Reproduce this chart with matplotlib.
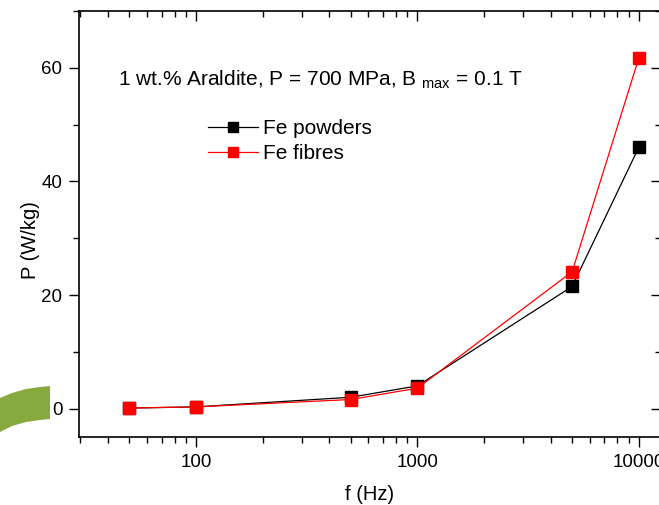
import matplotlib.pyplot as plt
from matplotlib.patches import Polygon
from matplotlib.ticker import LogLocator, MultipleLocator, FixedLocator

plt.rcParams['font.family'] = ['Liberation Sans', 'DejaVu Sans']

freq = [50, 100, 500, 1000, 5000, 10000]
p_powders = [0.1, 0.3, 2.0, 4.0, 21.5, 46.0]
p_fibres = [0.1, 0.3, 1.6, 3.6, 24.1, 61.7]

W, H = 659, 505
fig = plt.figure(figsize=(W / 100, H / 100), dpi=100)

# green slide decoration at lower left
shape = [(0, 398), (12, 393), (26, 389), (40, 387), (50, 386),
         (50, 419), (40, 420), (26, 422), (12, 426), (0, 432)]
fig.patches.append(Polygon([(x / W, 1 - y / H) for x, y in shape], closed=True,
                           transform=fig.transFigure, facecolor='#88a93d', edgecolor='none'))

ax = fig.add_axes([79 / W, 1 - 437 / H, (661 - 79) / W, (437 - 11) / H])

ax.plot(freq, p_powders, color='black', lw=0.9, marker='s', ms=8, mfc='black', mec='black',
        label='Fe powders')
ax.plot(freq, p_fibres, color='red', lw=0.9, marker='s', ms=8, mfc='red', mec='red',
        label='Fe fibres')

ax.set_xscale('log')
ax.set_xlim(29.6, 12600)
ax.set_ylim(-5, 70)
ax.xaxis.set_major_locator(FixedLocator([100, 1000, 10000]))
ax.xaxis.set_minor_locator(LogLocator(base=10, subs=range(2, 10), numticks=20))
ax.set_xticklabels(['100', '1000', '10000'])
ax.yaxis.set_major_locator(MultipleLocator(20))
ax.yaxis.set_minor_locator(MultipleLocator(10))

ax.tick_params(axis='both', which='major', labelsize=13.5, length=7, width=1, pad=5)
ax.tick_params(axis='both', which='minor', length=4, width=1)
ax.tick_params(axis='x', which='both', direction='out', top=True)
ax.tick_params(axis='y', which='both', direction='out', right=True)
# top and right ticks point inward
for t in ax.xaxis.get_ticklines(minor=False)[1::2] + ax.xaxis.get_ticklines(minor=True)[1::2]:
    t.set_marker(3)
for t in ax.yaxis.get_ticklines(minor=False)[1::2] + ax.yaxis.get_ticklines(minor=True)[1::2]:
    t.set_marker(0)

for s in ax.spines.values():
    s.set_linewidth(1.2)

ax.set_xlabel('f (Hz)', fontsize=14.5, labelpad=10)
ax.set_ylabel('P (W/kg)', fontsize=14.5)
ax.yaxis.set_label_coords((40 - 79) / (661 - 79), (437 - 240) / (437 - 11))

ax.text(118 / W, 1 - 80 / H, r'1 wt.% Araldite, P = 700 MPa, B $_{\mathregular{max}}$ = 0.1 T',
        transform=fig.transFigure, fontsize=15, va='center', ha='left')

leg = ax.legend(loc='upper left', bbox_to_anchor=((208 - 79) / (661 - 79), 1 - (119 - 11) / (437 - 11)),
                frameon=False, fontsize=15, handlelength=2.4, handletextpad=0.25,
                labelspacing=0.3, borderaxespad=0, borderpad=0, markerscale=0.85)

fig.savefig('out.png', dpi=100)
